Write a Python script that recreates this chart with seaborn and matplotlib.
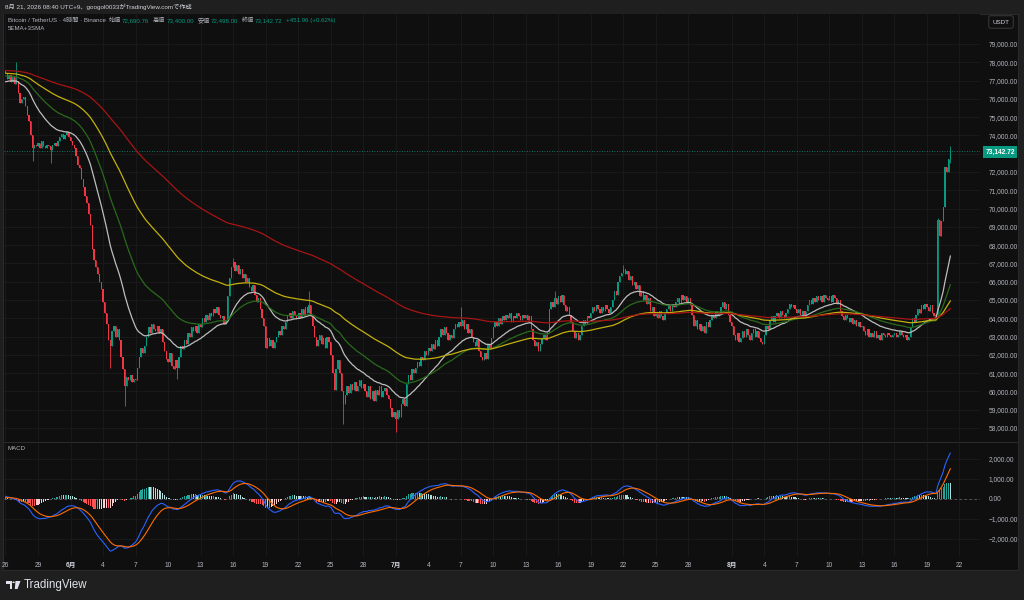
import numpy as np
import pandas as pd
import matplotlib
matplotlib.use('Agg')
import matplotlib.pyplot as plt
import seaborn as sns
from matplotlib.patches import Polygon, Circle

# 4h closes, in 100 USDT, one row per day (6 candles), 5/26 -> 8/21
closes = [
    774, 771, 773, 769, 772, 768,   # 5/26
    770, 763, 758, 760, 761, 756,
    751, 748, 740, 733, 735, 734,
    736, 733, 737, 734, 733, 735,
    734, 732, 735, 736, 734, 737,
    739, 741, 738, 740, 742, 739,
    737, 735, 733, 729, 724, 722,   # 6/1
    716, 712, 707, 703, 697, 691,
    678, 672, 668, 664, 660, 656,
    649, 643, 637, 628, 625, 633,
    636, 630, 634, 628, 619, 612,
    603, 608, 606, 609, 605, 607,
    606, 613, 619, 624, 621, 625,
    630, 635, 632, 637, 634, 633,
    636, 632, 634, 627, 622, 618,
    616, 621, 614, 612, 617, 613,   # 6/10
    619, 625, 623, 628, 626, 632,
    630, 635, 633, 636, 632, 637,
    635, 640, 638, 642, 639, 643,
    641, 645, 643, 646, 642, 640,
    641, 637, 639, 652, 662, 668,
    671, 666, 669, 664, 667, 662,
    664, 660, 662, 657, 655, 658,
    653, 649, 651, 645, 640, 636,
    624, 629, 625, 628, 624, 627,
    630, 633, 631, 636, 634, 638,   # 6/20
    641, 643, 640, 644, 642, 640,
    643, 640, 645, 642, 646, 643,
    647, 641, 636, 630, 625, 628,
    631, 626, 629, 624, 630, 627,
    620, 610, 601, 612, 617, 610,
    600, 593, 598, 603, 599, 604,
    601, 605, 600, 603, 606, 602,
    604, 600, 597, 603, 596, 600,
    595, 601, 598, 603, 597, 600,
    602, 598, 596, 591, 586, 589,   # 6/30
    585, 590, 586, 593, 596, 592,   # 7/1
    604, 609, 606, 612, 610, 613,
    616, 614, 619, 617, 622, 620,
    624, 622, 626, 623, 628, 625,
    630, 634, 631, 635, 632, 628,
    631, 629, 634, 637, 635, 638,
    636, 639, 634, 637, 632, 634,
    630, 627, 625, 628, 622, 619,
    617, 621, 618, 626, 624, 629,
    635, 638, 636, 640, 637, 641,   # 7/10
    639, 642, 640, 643, 638, 641,
    640, 643, 641, 639, 642, 640,
    642, 639, 641, 634, 628, 625,
    627, 622, 626, 629, 631, 628,
    632, 645, 649, 646, 651, 648,
    652, 649, 653, 647, 644, 646,
    642, 638, 633, 629, 632, 628,
    631, 636, 639, 637, 641, 640,
    643, 646, 644, 647, 645, 643,
    646, 644, 647, 645, 643, 646,   # 7/20
    650, 655, 653, 660, 663, 665,
    667, 664, 666, 661, 663, 658,
    660, 656, 658, 652, 655, 650,
    653, 648, 651, 644, 646, 641,
    643, 640, 644, 641, 639, 643,
    645, 647, 644, 648, 646, 649,
    651, 648, 653, 650, 652, 649,
    651, 647, 642, 636, 639, 634,
    637, 633, 636, 632, 638, 635,
    639, 642, 640, 644, 641, 643,   # 7/30
    646, 649, 645, 648, 642, 638,
    636, 631, 628, 632, 627, 629,   # 8/1
    633, 630, 634, 631, 628, 632,
    634, 630, 633, 629, 627, 626,
    631, 636, 634, 639, 641, 638,
    641, 643, 640, 644, 642, 640,
    643, 645, 648, 646, 647, 645,
    643, 645, 642, 644, 641, 644,
    647, 650, 648, 651, 649, 652,
    650, 652, 649, 653, 651, 650,
    652, 649, 653, 651, 648, 650,   # 8/10
    644, 641, 639, 642, 640, 638,
    640, 637, 639, 636, 638, 635,
    636, 633, 631, 634, 630, 632,
    630, 633, 629, 631, 628, 632,
    631, 630, 632, 631, 630, 631,
    632, 630, 631, 633, 631, 630,
    631, 628, 630, 635, 640, 638,
    642, 645, 643, 647, 645, 648,
    646, 644, 647, 643, 641, 642,
    694, 685, 693, 701, 723, 720,   # 8/20
    726.9076, 731.4272,
]
first_open = 775

# wick extremes that stand out (candle index, price in 100 USDT)
high_idx = [6, 126, 168, 252, 304, 342, 516, 523]
high_val = [780, 673, 655, 646, 655, 669, 695, 734.00]
low_idx = [15, 25, 58, 66, 95, 187, 216, 523]
low_val = [726, 725, 613, 592, 607, 582, 578, 724.98]

# indicator lines at the left edge (USDT)
ma_spans = [25, 50, 100, 200]
ma_start = [76900, 77250, 77400, 77550]
ma_colors = ['#bdbdbd', '#2a6a1c', '#c2b00c', '#a81414']
macd_start = [77500, 77350, 30]   # ema12, ema26, signal

tick_days = [0, 3, 6, 9, 12, 15, 18, 21, 24, 27, 30, 33, 36, 39, 42, 45, 48,
             51, 54, 57, 60, 63, 67, 70, 73, 76, 79, 82, 85, 88]
tick_text = ['26', '29', '6月', '4', '7', '10', '13', '16', '19', '22', '25', '28',
             '7月', '4', '7', '10', '13', '16', '19', '22', '25', '28',
             '8月', '4', '7', '10', '13', '16', '19', '22']
price_ticks = list(range(58000, 80000, 1000))
macd_ticks = [2000, 1000, 0, -1000, -2000]
last_price = 73142.72

UP = '#089981'
DN = '#f23645'
BG = '#0f0f0f'
OUT = '#1f1f1f'
TXT = '#b2b5be'


def ema(vals, span, start):
    a = 2.0 / (span + 1)
    out = []
    e = start
    for v in vals:
        e = e + a * (v - e)
        out.append(e)
    return np.array(out)


c = np.array(closes, dtype=float) * 100
o = np.concatenate([[first_open * 100], c[:-1]])
hi = np.maximum(o, c)
lo = np.minimum(o, c)
for k, v in zip(high_idx, high_val):
    hi[k] = v * 100
for k, v in zip(low_idx, low_val):
    lo[k] = v * 100
idx = np.arange(len(c))

df = pd.DataFrame({'i': idx, 'open': o, 'close': c, 'high': hi, 'low': lo})
for span, st in zip(ma_spans, ma_start):
    df['ma%d' % span] = ema(c, span, st)
fast = ema(c, 12, macd_start[0])
slow = ema(c, 26, macd_start[1])
df['macd'] = fast - slow
df['signal'] = ema(df['macd'].values, 9, macd_start[2])
df['hist'] = df['macd'] - df['signal']

sns.set_theme(style='dark', rc={'axes.facecolor': BG, 'figure.facecolor': OUT})
plt.rcParams['font.family'] = ['Liberation Sans', 'Noto Sans CJK JP', 'DejaVu Sans']
plt.rcParams['axes.unicode_minus'] = True


def fx(x):
    return x / 1024


def fy(y):
    return 1 - y / 600


fig = plt.figure(figsize=(10.24, 6), dpi=100)

# chart frame (behind everything)
bg = fig.add_axes([fx(3), fy(570), fx(1015), 556 / 600])
bg.set_zorder(-5)
bg.set_facecolor(BG)
bg.set_xticks([])
bg.set_yticks([])
for s in bg.spines.values():
    s.set_color('#2a2a2a')
    s.set_linewidth(0.8)

ax = fig.add_axes([fx(4), fy(441), fx(976), 427 / 600])
ax2 = fig.add_axes([fx(4), fy(556), fx(976), 114 / 600])

xmin, xmax = -0.83, 539.4
tick_pos = [6 * d for d in tick_days]

for a in (ax, ax2):
    a.set_facecolor(BG)
    a.set_xlim(xmin, xmax)
    for s in a.spines.values():
        s.set_visible(False)
    for t in tick_pos:
        a.axvline(t, color='#1b1b1b', lw=0.6, zorder=0)

# candles
up = df['close'] >= df['open']
cols = np.where(up, UP, DN)
ax.vlines(df['i'], df['low'], df['high'], colors=cols, lw=0.6, zorder=2)
body = np.maximum((df['close'] - df['open']).abs(), 25)
ax.bar(df['i'], body, bottom=np.minimum(df['open'], df['close']), width=0.7,
       color=cols, linewidth=0, zorder=3)

for span, col in zip(ma_spans, ma_colors):
    sns.lineplot(data=df, x='i', y='ma%d' % span, ax=ax, color=col, linewidth=0.9,
                 estimator=None, zorder=4)

ax.axhline(last_price, color=UP, ls=(0, (1, 2)), lw=0.6, zorder=1)
for p in price_ticks:
    ax.axhline(p, color='#1b1b1b', lw=0.6, zorder=0)
ax.set_ylim(57290, 80640)
ax.yaxis.tick_right()
ax.set_yticks(price_ticks)
# 73,000 sits under the last-price box
ax.set_yticklabels(['' if p == 73000 else '{:,.2f}'.format(p) for p in price_ticks])
ax.tick_params(axis='y', length=0, pad=6, labelsize=4.8, labelcolor=TXT)
ax.set_xticks([])
ax.set_xlabel('')
ax.set_ylabel('')

# MACD panel
h = df['hist'].values
hprev = np.concatenate([[h[0]], h[:-1]])
hcol = np.where(h >= 0, np.where(h >= hprev, '#26a69a', '#b2dfdb'),
                np.where(h >= hprev, '#ffcdd2', '#ff5252'))
ax2.bar(df['i'], h, width=0.6, color=hcol, linewidth=0, zorder=2)
sns.lineplot(data=df, x='i', y='macd', ax=ax2, color='#2962ff', linewidth=0.8,
             estimator=None, zorder=3)
sns.lineplot(data=df, x='i', y='signal', ax=ax2, color='#ff6d00', linewidth=0.8,
             estimator=None, zorder=3)
ax2.axhline(0, color='#5d606b', ls=(0, (3, 3)), lw=0.6, zorder=1)
for p in macd_ticks:
    ax2.axhline(p, color='#1b1b1b', lw=0.6, zorder=0)
ax2.set_ylim(-2870, 2850)
ax2.yaxis.tick_right()
ax2.set_yticks(macd_ticks)
ax2.set_yticklabels(['{:,.2f}'.format(p).replace('-', '\u2212') for p in macd_ticks])
ax2.tick_params(axis='y', length=0, pad=6, labelsize=4.8, labelcolor=TXT)
ax2.set_xticks(tick_pos)
ax2.set_xticklabels(tick_text)
ax2.tick_params(axis='x', length=0, pad=4, labelsize=4.8, labelcolor=TXT)
for lab in ax2.get_xticklabels():
    if '月' in lab.get_text():
        lab.set_color('#d1d4dc')
        lab.set_fontweight('bold')
ax2.set_xlabel('')
ax2.set_ylabel('')

# separator between panes
fig.add_artist(plt.Line2D([fx(4), fx(1018)], [fy(441.5), fy(441.5)], color='#2a2a2a',
                          lw=0.8, transform=fig.transFigure))

# header texts
fig.text(fx(5), fy(7), '8月 21, 2026 08:40 UTC+9、googol0033がTradingView.comで作成',
         fontsize=4.5, color='#d1d4dc', va='center')

# legend line, laid out piece after piece
legend_parts = [('Bitcoin / TetherUS · 4時間 · Binance', TXT, 3),
                ('始値', TXT, 1), ('72,690.76', UP, 3.5),
                ('高値', TXT, 1), ('73,400.00', UP, 3.5),
                ('安値', TXT, 1), ('72,498.00', UP, 3.5),
                ('終値', TXT, 1), ('73,142.72', UP, 3.5),
                ('+451.96 (+0.62%)', UP, 0)]
renderer = fig.canvas.get_renderer()
xp = 8.0
for s, col, gap in legend_parts:
    t = fig.text(fx(xp), fy(20.5), s, fontsize=4.4, color=col, va='center')
    bb = t.get_window_extent(renderer)
    xp = bb.x1 + gap
fig.text(fx(8), fy(29), '5EMA+3SMA', fontsize=4.4, color=TXT, va='center')
fig.text(fx(8), fy(449), 'MACD', fontsize=4.4, color=TXT, va='center')

# right axis boxes
fig.text(fx(1001), fy(22), 'USDT', fontsize=4.5, color='#d1d4dc', va='center', ha='center',
         bbox=dict(boxstyle='round,pad=0.6,rounding_size=0.3', fc=BG, ec='#3a3a3a', lw=0.7))
fig.text(fx(1000), fy(152), '73,142.72', fontsize=4.8, color='white', va='center', ha='center',
         fontweight='bold', bbox=dict(boxstyle='square,pad=0.35', fc=UP, ec=UP, lw=0))

# TradingView logo
fig.patches.append(Polygon([(fx(6), fy(581)), (fx(12), fy(581)), (fx(12), fy(589)),
                            (fx(9.5), fy(589)), (fx(9.5), fy(583.5)), (fx(6), fy(583.5))],
                           closed=True, transform=fig.transFigure, fc='#e0e3eb', ec='none'))
fig.patches.append(Circle((fx(13.6), fy(582.3)), 1.3 / 1024, transform=fig.transFigure,
                          fc='#e0e3eb', ec='none'))
fig.patches.append(Polygon([(fx(15.5), fy(581)), (fx(20.5), fy(581)), (fx(17.5), fy(589)),
                            (fx(14.8), fy(589))], closed=True, transform=fig.transFigure,
                           fc='#e0e3eb', ec='none'))
fig.text(fx(24), fy(585), 'TradingView', fontsize=8.3, color='#e0e3eb', va='center')

fig.savefig('out.png', dpi=100, facecolor=OUT)
